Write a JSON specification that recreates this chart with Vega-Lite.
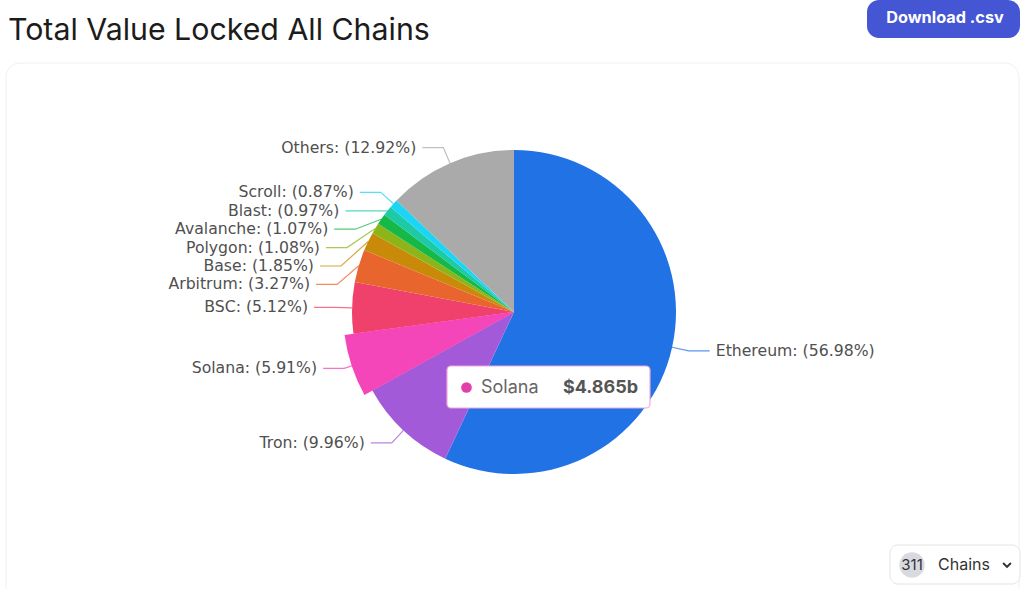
{
  "$schema": "https://vega.github.io/schema/vega-lite/v6.json",
  "width": 1024,
  "height": 589,
  "autosize": "none",
  "padding": 0,
  "background": "white",
  "config": {"view": {"stroke": null}},
  "data": {"values": [
    {"name": "Ethereum", "order": 1, "share": 56.98, "tvl": 46.905},
    {"name": "Tron", "order": 2, "share": 9.96, "tvl": 8.199},
    {"name": "Solana", "order": 3, "share": 5.91, "tvl": 4.865},
    {"name": "BSC", "order": 4, "share": 5.12, "tvl": 4.215},
    {"name": "Arbitrum", "order": 5, "share": 3.27, "tvl": 2.692},
    {"name": "Base", "order": 6, "share": 1.85, "tvl": 1.523},
    {"name": "Polygon", "order": 7, "share": 1.08, "tvl": 0.889},
    {"name": "Avalanche", "order": 8, "share": 1.07, "tvl": 0.881},
    {"name": "Blast", "order": 9, "share": 0.97, "tvl": 0.799},
    {"name": "Scroll", "order": 10, "share": 0.87, "tvl": 0.716},
    {"name": "Others", "order": 11, "share": 12.92, "tvl": 10.636}
  ]},
  "transform": [
    {"window": [{"op": "sum", "field": "share", "as": "end"}], "sort": [{"field": "order"}], "frame": [null, 0]},
    {"calculate": "datum.end - datum.share", "as": "start"},
    {"calculate": "(datum.start + datum.share / 2) / 100 * 2 * PI", "as": "mid"},
    {"calculate": "sin(datum.mid) >= 0 ? 1 : -1", "as": "side"},
    {"calculate": "datum.name == 'Solana' ? 171 : 162", "as": "rr"},
    {"calculate": "514 + datum.rr * sin(datum.mid)", "as": "ex"},
    {"calculate": "312 - datum.rr * cos(datum.mid)", "as": "ey"},
    {"calculate": "312 - 179 * cos(datum.mid)", "as": "ny"},
    {"window": [{"op": "row_number", "as": "rn"}], "sort": [{"field": "ny"}], "groupby": ["side"]},
    {"calculate": "datum.ny - (datum.rn - 1) * 18.4", "as": "k"},
    {"window": [{"op": "max", "field": "k", "as": "km"}], "sort": [{"field": "ny"}], "groupby": ["side"], "frame": [null, 0]},
    {"calculate": "(datum.rn - 1) * 18.4 + datum.km", "as": "ly"},
    {"calculate": "514 + datum.side * sqrt(max(0, 179 * 179 - (datum.ly - 312) * (datum.ly - 312)))", "as": "bx"},
    {"calculate": "datum.bx + datum.side * 21", "as": "lx"},
    {"calculate": "datum.lx + datum.side * 6", "as": "tx"},
    {"calculate": "datum.name + ': (' + format(datum.share, '.2f') + '%)'", "as": "label"},
    {"calculate": "'$' + format(datum.tvl, '.3f') + 'b'", "as": "tvlLabel"}
  ],
  "layer": [
    {
      "data": {"values": [{}]},
      "mark": {"type": "rect", "fill": "white", "stroke": "#f0f0f0", "strokeWidth": 1, "cornerRadius": 14},
      "encoding": {
        "x": {"datum": 6, "type": "quantitative", "scale": {"domain": [0, 1024], "range": [0, 1024], "nice": false, "zero": false}, "axis": null},
        "x2": {"datum": 1019},
        "y": {"datum": 63, "type": "quantitative", "scale": {"domain": [0, 589], "range": [0, 589], "nice": false, "zero": false}, "axis": null},
        "y2": {"datum": 620}
      }
    },
    {
      "mark": {"type": "arc", "outerRadius": 162},
      "encoding": {
        "x": {"datum": 514, "type": "quantitative", "scale": {"domain": [0, 1024], "range": [0, 1024], "nice": false, "zero": false}, "axis": null},
        "y": {"datum": 312, "type": "quantitative", "scale": {"domain": [0, 589], "range": [0, 589], "nice": false, "zero": false}, "axis": null},
        "theta": {"field": "start", "type": "quantitative", "scale": {"domain": [0, 100]}},
        "theta2": {"field": "end"},
        "color": {"field": "name", "type": "nominal", "legend": null, "scale": {
          "domain": ["Ethereum", "Tron", "Solana", "BSC", "Arbitrum", "Base", "Polygon", "Avalanche", "Blast", "Scroll", "Others"],
          "range": ["#2172e5", "#a35ad8", "#f546b9", "#f0416c", "#e8652d", "#c98a0a", "#8db51a", "#16b947", "#1ec9a6", "#1bd5f4", "#aaaaaa"]}}
      }
    },
    {
      "transform": [{"filter": "datum.name == 'Solana'"}],
      "mark": {"type": "arc", "outerRadius": 171},
      "encoding": {
        "x": {"datum": 514, "type": "quantitative", "scale": {"domain": [0, 1024], "range": [0, 1024], "nice": false, "zero": false}, "axis": null},
        "y": {"datum": 312, "type": "quantitative", "scale": {"domain": [0, 589], "range": [0, 589], "nice": false, "zero": false}, "axis": null},
        "theta": {"field": "start", "type": "quantitative", "scale": {"domain": [0, 100]}},
        "theta2": {"field": "end"},
        "color": {"field": "name", "type": "nominal", "legend": null}
      }
    },
    {
      "transform": [
        {"calculate": "[datum.ex, datum.bx, datum.lx]", "as": "px"},
        {"calculate": "[datum.ey, datum.ly, datum.ly]", "as": "py"},
        {"calculate": "[0, 1, 2]", "as": "pi"},
        {"flatten": ["px", "py", "pi"]}
      ],
      "mark": {"type": "line", "strokeWidth": 1.2, "opacity": 0.75},
      "encoding": {
        "x": {"field": "px", "type": "quantitative", "scale": {"domain": [0, 1024], "range": [0, 1024], "nice": false, "zero": false}, "axis": null},
        "y": {"field": "py", "type": "quantitative", "scale": {"domain": [0, 589], "range": [0, 589], "nice": false, "zero": false}, "axis": null},
        "order": {"field": "pi", "type": "quantitative"},
        "detail": {"field": "name"},
        "color": {"field": "name", "type": "nominal", "legend": null}
      }
    },
    {
      "transform": [{"filter": "datum.side < 0"}],
      "mark": {"type": "text", "align": "right", "baseline": "middle", "font": "DejaVu Sans", "fontSize": 15.7, "fill": "#505050"},
      "encoding": {
        "x": {"field": "tx", "type": "quantitative", "scale": {"domain": [0, 1024], "range": [0, 1024], "nice": false, "zero": false}, "axis": null},
        "y": {"field": "ly", "type": "quantitative", "scale": {"domain": [0, 589], "range": [0, 589], "nice": false, "zero": false}, "axis": null},
        "text": {"field": "label"}
      }
    },
    {
      "transform": [{"filter": "datum.side > 0"}],
      "mark": {"type": "text", "align": "left", "baseline": "middle", "font": "DejaVu Sans", "fontSize": 15.7, "fill": "#505050"},
      "encoding": {
        "x": {"field": "tx", "type": "quantitative", "scale": {"domain": [0, 1024], "range": [0, 1024], "nice": false, "zero": false}, "axis": null},
        "y": {"field": "ly", "type": "quantitative", "scale": {"domain": [0, 589], "range": [0, 589], "nice": false, "zero": false}, "axis": null},
        "text": {"field": "label"}
      }
    },
    {
      "data": {"values": [{}]},
      "mark": {"type": "rect", "fill": "white", "stroke": "#f0a8d8", "strokeWidth": 1.2, "cornerRadius": 4},
      "encoding": {
        "x": {"datum": 447, "type": "quantitative", "scale": {"domain": [0, 1024], "range": [0, 1024], "nice": false, "zero": false}, "axis": null},
        "x2": {"datum": 650},
        "y": {"datum": 366, "type": "quantitative", "scale": {"domain": [0, 589], "range": [0, 589], "nice": false, "zero": false}, "axis": null},
        "y2": {"datum": 408}
      }
    },
    {
      "transform": [{"filter": "datum.name == 'Solana'"}],
      "mark": {"type": "point", "filled": true, "opacity": 1, "size": 113, "fill": "#e23fa8"},
      "encoding": {
        "x": {"datum": 466.5, "type": "quantitative", "scale": {"domain": [0, 1024], "range": [0, 1024], "nice": false, "zero": false}, "axis": null},
        "y": {"datum": 387.5, "type": "quantitative", "scale": {"domain": [0, 589], "range": [0, 589], "nice": false, "zero": false}, "axis": null}
      }
    },
    {
      "transform": [{"filter": "datum.name == 'Solana'"}],
      "mark": {"type": "text", "align": "left", "baseline": "middle", "font": "Inter", "fontSize": 18, "fill": "#666666"},
      "encoding": {
        "x": {"datum": 481, "type": "quantitative", "scale": {"domain": [0, 1024], "range": [0, 1024], "nice": false, "zero": false}, "axis": null},
        "y": {"datum": 388, "type": "quantitative", "scale": {"domain": [0, 589], "range": [0, 589], "nice": false, "zero": false}, "axis": null},
        "text": {"field": "name"}
      }
    },
    {
      "transform": [{"filter": "datum.name == 'Solana'"}],
      "mark": {"type": "text", "align": "right", "baseline": "middle", "font": "Inter", "fontSize": 18, "fontWeight": "bold", "fill": "#555555"},
      "encoding": {
        "x": {"datum": 638, "type": "quantitative", "scale": {"domain": [0, 1024], "range": [0, 1024], "nice": false, "zero": false}, "axis": null},
        "y": {"datum": 388, "type": "quantitative", "scale": {"domain": [0, 589], "range": [0, 589], "nice": false, "zero": false}, "axis": null},
        "text": {"field": "tvlLabel"}
      }
    },
    {
      "data": {"values": [{}]},
      "mark": {"type": "text", "text": "Total Value Locked All Chains", "align": "left", "baseline": "alphabetic", "font": "Inter", "fontSize": 30.3, "fill": "#1c1c1c"},
      "encoding": {
        "x": {"datum": 8, "type": "quantitative", "scale": {"domain": [0, 1024], "range": [0, 1024], "nice": false, "zero": false}, "axis": null},
        "y": {"datum": 40, "type": "quantitative", "scale": {"domain": [0, 589], "range": [0, 589], "nice": false, "zero": false}, "axis": null}
      }
    },
    {
      "data": {"values": [{}]},
      "mark": {"type": "rect", "fill": "#4456d4", "cornerRadius": 12},
      "encoding": {
        "x": {"datum": 867, "type": "quantitative", "scale": {"domain": [0, 1024], "range": [0, 1024], "nice": false, "zero": false}, "axis": null},
        "x2": {"datum": 1020},
        "y": {"datum": 0, "type": "quantitative", "scale": {"domain": [0, 589], "range": [0, 589], "nice": false, "zero": false}, "axis": null},
        "y2": {"datum": 38}
      }
    },
    {
      "data": {"values": [{}]},
      "mark": {"type": "text", "text": "Download .csv", "align": "center", "baseline": "middle", "font": "Inter", "fontSize": 16.3, "fontWeight": "bold", "fill": "white"},
      "encoding": {
        "x": {"datum": 945, "type": "quantitative", "scale": {"domain": [0, 1024], "range": [0, 1024], "nice": false, "zero": false}, "axis": null},
        "y": {"datum": 18, "type": "quantitative", "scale": {"domain": [0, 589], "range": [0, 589], "nice": false, "zero": false}, "axis": null}
      }
    },
    {
      "data": {"values": [{}]},
      "mark": {"type": "rect", "fill": "white", "stroke": "#e4e4e4", "strokeWidth": 1, "cornerRadius": 8},
      "encoding": {
        "x": {"datum": 890, "type": "quantitative", "scale": {"domain": [0, 1024], "range": [0, 1024], "nice": false, "zero": false}, "axis": null},
        "x2": {"datum": 1020},
        "y": {"datum": 545, "type": "quantitative", "scale": {"domain": [0, 589], "range": [0, 589], "nice": false, "zero": false}, "axis": null},
        "y2": {"datum": 584}
      }
    },
    {
      "data": {"values": [{}]},
      "mark": {"type": "point", "filled": true, "opacity": 1, "size": 640, "fill": "#d8dae0"},
      "encoding": {
        "x": {"datum": 912, "type": "quantitative", "scale": {"domain": [0, 1024], "range": [0, 1024], "nice": false, "zero": false}, "axis": null},
        "y": {"datum": 565, "type": "quantitative", "scale": {"domain": [0, 589], "range": [0, 589], "nice": false, "zero": false}, "axis": null}
      }
    },
    {
      "data": {"values": [{}]},
      "mark": {"type": "text", "text": "311", "align": "center", "baseline": "middle", "font": "Inter", "fontSize": 15, "fill": "#333333"},
      "encoding": {
        "x": {"datum": 912, "type": "quantitative", "scale": {"domain": [0, 1024], "range": [0, 1024], "nice": false, "zero": false}, "axis": null},
        "y": {"datum": 565, "type": "quantitative", "scale": {"domain": [0, 589], "range": [0, 589], "nice": false, "zero": false}, "axis": null}
      }
    },
    {
      "data": {"values": [{}]},
      "mark": {"type": "text", "text": "Chains", "align": "left", "baseline": "middle", "font": "Inter", "fontSize": 16, "fill": "#333333"},
      "encoding": {
        "x": {"datum": 938, "type": "quantitative", "scale": {"domain": [0, 1024], "range": [0, 1024], "nice": false, "zero": false}, "axis": null},
        "y": {"datum": 565, "type": "quantitative", "scale": {"domain": [0, 589], "range": [0, 589], "nice": false, "zero": false}, "axis": null}
      }
    },
    {
      "data": {"values": [{}]},
      "mark": {"type": "point", "shape": "M-1,-0.5L0,0.5L1,-0.5", "filled": false, "opacity": 1, "size": 60, "stroke": "#333333", "strokeWidth": 2},
      "encoding": {
        "x": {"datum": 1007, "type": "quantitative", "scale": {"domain": [0, 1024], "range": [0, 1024], "nice": false, "zero": false}, "axis": null},
        "y": {"datum": 565, "type": "quantitative", "scale": {"domain": [0, 589], "range": [0, 589], "nice": false, "zero": false}, "axis": null}
      }
    }
  ]
}
